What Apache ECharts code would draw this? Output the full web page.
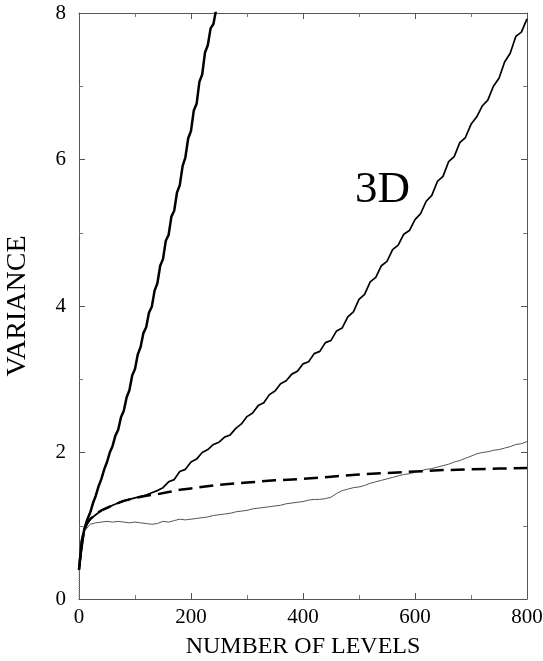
<!DOCTYPE html>
<html>
<head>
<meta charset="utf-8">
<script src="https://cdn.jsdelivr.net/npm/echarts@6/dist/echarts.min.js"></script>
<style>
    html, body { margin: 0; padding: 0; background: #ffffff; }
    #chart { width: 543px; height: 661px; }
</style>
</head>
<body>
<div id="chart"></div>
<script>
// variance readings, steep curve sampled every 5 levels, the others every 10
const steepStep = 5;
const steepVar = [
    0.40, 0.80, 0.97, 1.09, 1.18, 1.31, 1.41, 1.54, 1.64, 1.77,
    1.87, 2.00, 2.09, 2.23, 2.31, 2.48, 2.57, 2.75, 2.85, 3.05,
    3.14, 3.34, 3.44, 3.63, 3.71, 3.91, 3.99, 4.21, 4.31, 4.55,
    4.64, 4.89, 4.97, 5.22, 5.30, 5.55, 5.65, 5.91, 6.03, 6.29,
    6.39, 6.67, 6.76, 7.06, 7.16, 7.46, 7.56, 7.79, 7.85, 8.05
];

const step = 10;
const middleVar = [
    0.40, 0.97, 1.09, 1.15, 1.21, 1.24, 1.28, 1.31, 1.34, 1.36,
    1.38, 1.40, 1.42, 1.45, 1.48, 1.52, 1.60, 1.63, 1.74, 1.77,
    1.87, 1.91, 2.00, 2.04, 2.11, 2.14, 2.21, 2.24, 2.33, 2.39,
    2.49, 2.54, 2.64, 2.68, 2.79, 2.84, 2.94, 2.98, 3.07, 3.11,
    3.21, 3.24, 3.35, 3.38, 3.50, 3.53, 3.66, 3.70, 3.85, 3.92,
    4.09, 4.16, 4.33, 4.39, 4.55, 4.61, 4.77, 4.83, 4.98, 5.03,
    5.18, 5.26, 5.43, 5.51, 5.70, 5.77, 5.97, 6.04, 6.23, 6.30,
    6.48, 6.58, 6.73, 6.81, 7.00, 7.11, 7.33, 7.45, 7.68, 7.74,
    7.92
];

const lowerVar = [
    0.40, 0.93, 1.02, 1.04, 1.05, 1.06, 1.05, 1.06, 1.05, 1.04,
    1.05, 1.04, 1.03, 1.02, 1.03, 1.06, 1.05, 1.07, 1.09, 1.08,
    1.09, 1.10, 1.11, 1.12, 1.14, 1.15, 1.16, 1.17, 1.19, 1.20,
    1.21, 1.23, 1.24, 1.25, 1.26, 1.27, 1.28, 1.30, 1.31, 1.32,
    1.33, 1.35, 1.36, 1.36, 1.37, 1.39, 1.44, 1.48, 1.50, 1.52,
    1.53, 1.55, 1.58, 1.60, 1.62, 1.64, 1.66, 1.68, 1.70, 1.71,
    1.73, 1.75, 1.77, 1.78, 1.80, 1.82, 1.84, 1.87, 1.89, 1.92,
    1.95, 1.98, 2.00, 2.01, 2.03, 2.04, 2.06, 2.08, 2.11, 2.12,
    2.15
];

const dashedLevels = [0, 5, 10, 15, 20, 30, 40, 60, 80, 100, 120, 140, 160, 180, 200,
    250, 300, 350, 400, 450, 500, 550, 600, 650, 700, 750, 800];
const dashedVar = [0.40, 0.78, 0.95, 1.04, 1.09, 1.16, 1.21, 1.28, 1.34, 1.38, 1.41, 1.43, 1.46, 1.49, 1.51,
    1.56, 1.59, 1.62, 1.64, 1.67, 1.70, 1.72, 1.74, 1.76, 1.77, 1.78, 1.79];

const xTicks = [0, 200, 400, 600, 800];
const yTicks = [0, 2, 4, 6, 8];

const serif = "Liberation Serif";

const toPairs = (vals, dx) => vals.map((v, i) => [i * dx, v]);

const chart = echarts.init(document.getElementById("chart"));

const makeAxis = (position, extra) => ({
    type: "value",
    position: position,
    axisLine: { show: true, onZero: false, lineStyle: { color: "#555", width: 1 } },
    axisTick: { show: true, inside: true, length: 6, lineStyle: { color: "#555" } },
    minorTick: { show: true, splitNumber: 2, length: 4, lineStyle: { color: "#777" } },
    splitLine: { show: false },
    ...extra,
});

const option = {
    backgroundColor: "#ffffff",
    animation: false,
    grid: { left: 79, right: 16, top: 13, bottom: 62, containLabel: false, outerBoundsMode: "none" },
    xAxis: [
        makeAxis("bottom", {
            min: xTicks[0],
            max: xTicks[xTicks.length - 1],
            interval: 200,
            name: "NUMBER OF LEVELS",
            nameLocation: "middle",
            nameGap: 36,
            nameTextStyle: { fontFamily: serif, fontSize: 24, color: "#000" },
            axisLabel: { fontFamily: serif, fontSize: 21, color: "#000", margin: 8 },
        }),
        makeAxis("top", {
            min: xTicks[0],
            max: xTicks[xTicks.length - 1],
            interval: 200,
            axisLabel: { show: false },
        }),
    ],
    yAxis: [
        makeAxis("left", {
            min: yTicks[0],
            max: yTicks[yTicks.length - 1],
            interval: 2,
            name: "VARIANCE",
            nameLocation: "middle",
            nameGap: 47,
            nameTextStyle: { fontFamily: serif, fontSize: 28, color: "#000" },
            axisLabel: { fontFamily: serif, fontSize: 21, color: "#000", margin: 13 },
        }),
        makeAxis("right", {
            min: yTicks[0],
            max: yTicks[yTicks.length - 1],
            interval: 2,
            axisLabel: { show: false },
        }),
    ],
    graphic: [
        {
            type: "text",
            left: 355,
            top: 168,
            style: { text: "3D", fontFamily: serif, fontSize: 45, fill: "#000" },
        },
    ],
    series: [
        {
            type: "line",
            xAxisIndex: 1,
            yAxisIndex: 1,
            data: [],
        },
        {
            type: "line",
            data: [[0, 0], [0, 0.4]],
            showSymbol: false,
            lineStyle: { color: "#888", width: 1, type: "dotted" },
        },
        {
            type: "line",
            data: toPairs(lowerVar, step),
            showSymbol: false,
            lineStyle: { color: "#555", width: 1 },
        },
        {
            type: "line",
            data: dashedLevels.map((x, i) => [x, dashedVar[i]]),
            showSymbol: false,
            lineStyle: { color: "#000", width: 2.5, type: [14, 7] },
        },
        {
            type: "line",
            data: toPairs(middleVar, step),
            showSymbol: false,
            lineStyle: { color: "#000", width: 1.7 },
        },
        {
            type: "line",
            data: toPairs(steepVar, steepStep),
            showSymbol: false,
            lineStyle: { color: "#000", width: 2.5 },
        },
    ],
};

chart.setOption(option);
</script>
</body>
</html>
